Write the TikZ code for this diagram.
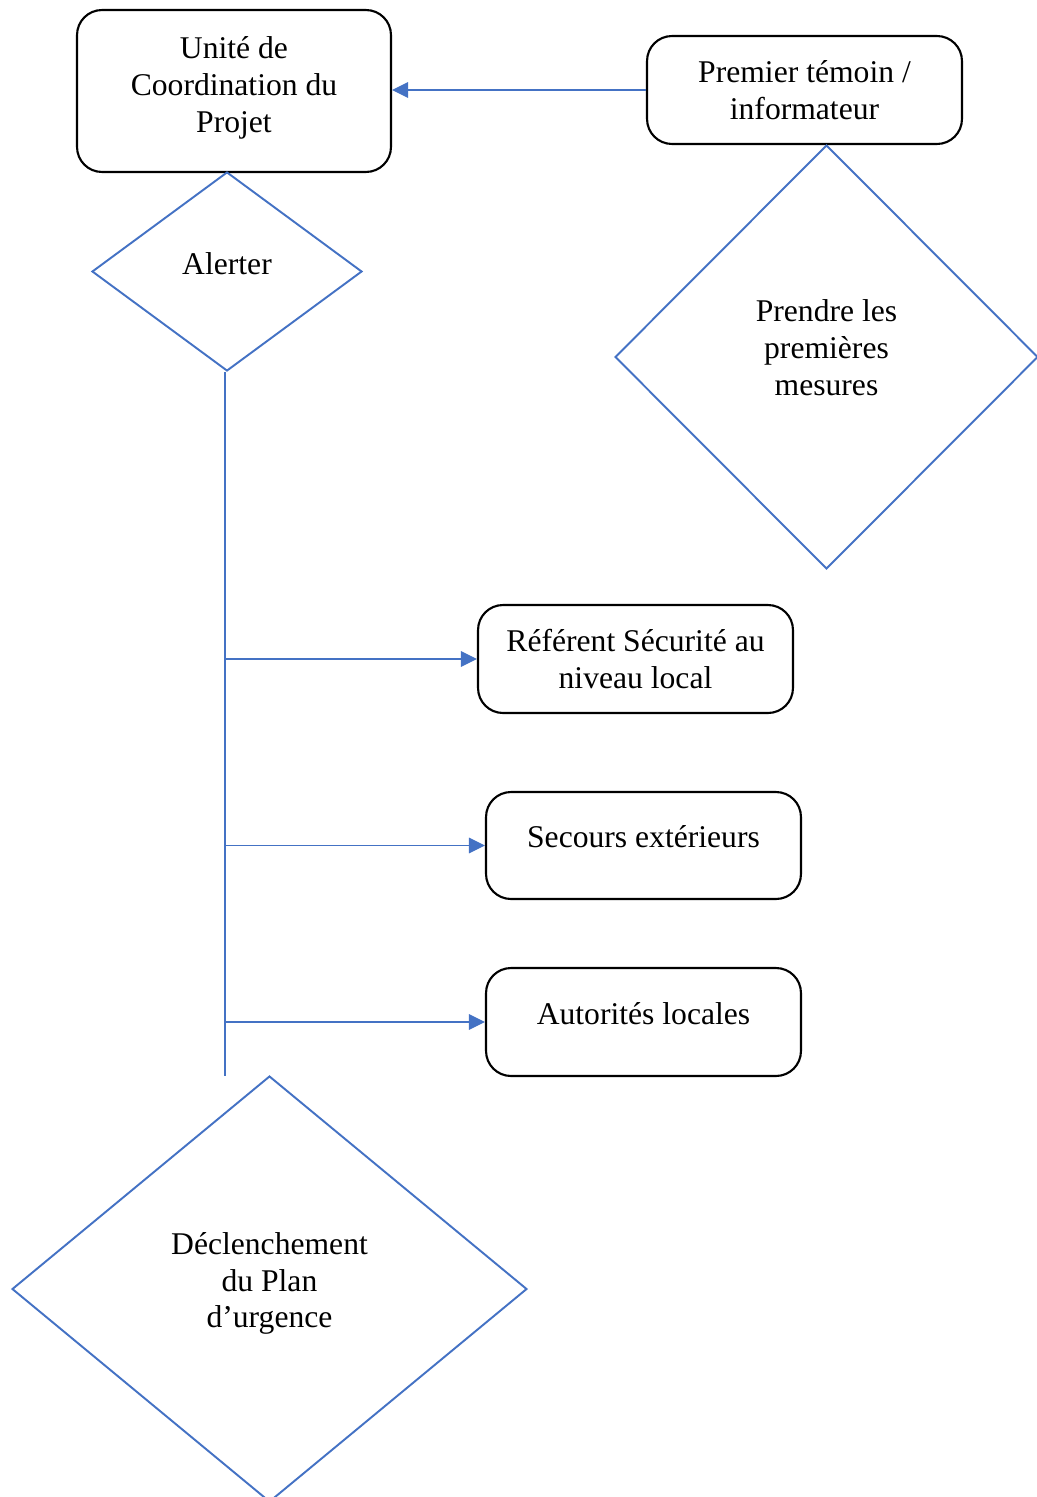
\documentclass[tikz,border=0pt]{standalone}
\usepackage{fontspec}
\setmainfont{Liberation Serif}
\usepackage{tikz}
\usetikzlibrary{shapes.geometric,arrows.meta}
\definecolor{officeblue}{HTML}{4472C4}

\begin{document}
\begin{tikzpicture}[x=0.02cm, y=-0.02cm,
  every node/.style={font=\fontsize{18}{21}\selectfont, align=center, inner sep=0pt},
  box/.style={draw=black, line width=1.2pt, rounded corners=0.5cm, minimum width=6.3cm, minimum height=2.16cm},
  losange/.style={draw=officeblue, line width=1.1pt, diamond},
  lift/.style={text depth=#1},
  fleche/.style={draw=officeblue, line width=0.7pt, -{Triangle[length=0.32cm, width=0.31cm]}}]
  \useasboundingbox (0,0) rectangle (1037,1497);
  \node[box, minimum width=6.28cm, minimum height=3.24cm, lift=0.26cm] (ucp) at (234,91) {Unité de\\Coordination du\\Projet};
  \node[box] (temoin) at (804.5,90) {Premier témoin /\\informateur};
  \node[losange, minimum width=5.4cm, minimum height=3.98cm, lift=0.32cm] (alerte) at (227,271.5) {Alerter};
  \node[losange, minimum width=8.46cm, minimum height=8.48cm, lift=0.38cm] (mesures) at (826.5,357) {Prendre les\\premières\\mesures};
  \node[box] (referent) at (635.5,659) {Référent Sécurité au\\niveau local};
  \node[box, minimum height=2.14cm, lift=0.36cm] (secours) at (643.5,845.5) {Secours extérieurs};
  \node[box, lift=0.36cm] (autorites) at (643.5,1022) {Autorités locales};
  \node[losange, minimum width=10.3cm, minimum height=8.52cm, lift=0.36cm] (plan) at (269.5,1289) {Déclenchement\\du Plan\\d’urgence};
  \coordinate (fin) at (225,1076);

  \path[fleche] (temoin.west) -- (temoin.west -| ucp.east);
  \draw[officeblue, line width=0.7pt] (alerte.south -| fin) -- (fin);
  \path[fleche] (referent.west -| fin) -- (referent.west);
  \path[fleche] (secours.west -| fin) -- (secours.west);
  \path[fleche] (autorites.west -| fin) -- (autorites.west);
\end{tikzpicture}
\end{document}
